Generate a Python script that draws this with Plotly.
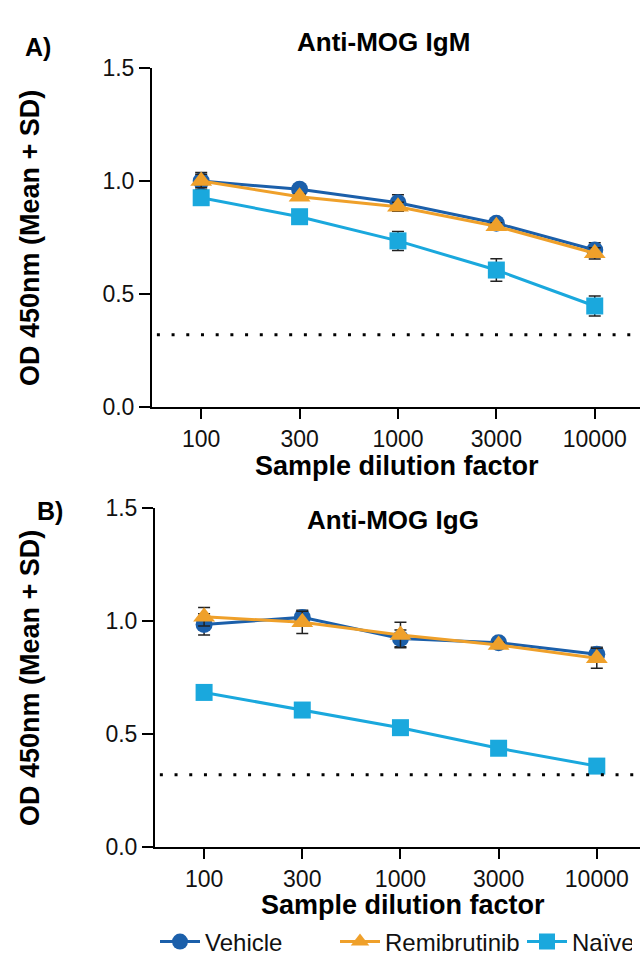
import plotly.graph_objects as go

dilutions = ["100", "300", "1000", "3000", "10000"]

# Panel A: Anti-MOG IgM
igm_vehicle = [1.00, 0.963, 0.904, 0.813, 0.695]
igm_vehicle_sd = [0.038, 0.010, 0.035, 0.012, 0.032]
igm_remi = [1.00, 0.930, 0.886, 0.800, 0.680]
igm_remi_sd = [0.030, 0.012, 0.020, 0.015, 0.025]
igm_naive = [0.926, 0.842, 0.735, 0.606, 0.447]
igm_naive_sd = [0.015, 0.012, 0.042, 0.050, 0.044]

# Panel B: Anti-MOG IgG
igg_vehicle = [0.985, 1.016, 0.923, 0.904, 0.853]
igg_vehicle_sd = [0.047, 0.032, 0.037, 0.012, 0.031]
igg_remi = [1.019, 0.994, 0.938, 0.894, 0.835]
igg_remi_sd = [0.041, 0.049, 0.056, 0.012, 0.044]
igg_naive = [0.684, 0.606, 0.528, 0.437, 0.358]
igg_naive_sd = [0.008, 0.008, 0.008, 0.008, 0.008]

cutoff = 0.32

series_names = ["Vehicle", "Remibrutinib", "Naïve"]
colors = ["#1b5faa", "#efa02a", "#1aa8dd"]
symbols = ["circle", "triangle-up", "square"]
msizes = [17, 19, 17]
legend_widths = [125, 132, 55]

W, H = 640, 957
FONT = "Liberation Sans, Arial, sans-serif"

fig = go.Figure()

panels = [
    ("x", "y", [igm_vehicle, igm_remi, igm_naive], [igm_vehicle_sd, igm_remi_sd, igm_naive_sd], True),
    ("x2", "y2", [igg_vehicle, igg_remi, igg_naive], [igg_vehicle_sd, igg_remi_sd, igg_naive_sd], False),
]
for xa, ya, vals, sds, show in panels:
    for i in range(3):
        fig.add_trace(go.Scatter(
            x=dilutions, y=vals[i], xaxis=xa, yaxis=ya,
            mode="lines+markers", name=series_names[i], showlegend=show,
            legendwidth=legend_widths[i],
            line=dict(color=colors[i], width=3),
            marker=dict(color=colors[i], symbol=symbols[i], size=msizes[i]),
            error_y=dict(type="data", array=sds[i], color="#222222", thickness=1.5, width=6),
        ))

def px_x(p):
    return p / W

def px_y(p):
    return 1 - p / H

axis_common = dict(showline=True, linecolor="black", linewidth=2, ticks="outside",
                   tickcolor="black", tickwidth=2, showgrid=False, zeroline=False,
                   tickfont=dict(family=FONT, size=23, color="#111"))

fig.update_layout(
    width=W, height=H,
    margin=dict(l=0, r=0, t=0, b=0, autoexpand=False),
    paper_bgcolor="white", plot_bgcolor="white",
    font=dict(family=FONT, color="black"),
    xaxis=dict(domain=[px_x(152), 1], range=[-0.5, 4.46], type="category",
               categoryorder="array", categoryarray=dilutions, ticklen=10,
               anchor="y", **axis_common),
    yaxis=dict(domain=[px_y(407), px_y(68)], range=[0, 1.5], tickvals=[0, 0.5, 1.0, 1.5],
               tickformat=".1f", ticklen=11, anchor="x", **axis_common),
    xaxis2=dict(domain=[px_x(155), 1], range=[-0.5, 4.44], type="category",
                categoryorder="array", categoryarray=dilutions, ticklen=10,
                anchor="y2", **axis_common),
    yaxis2=dict(domain=[px_y(847), px_y(508)], range=[0, 1.5], tickvals=[0, 0.5, 1.0, 1.5],
                tickformat=".1f", ticklen=11, anchor="x2", **axis_common),
    legend=dict(orientation="h", x=px_x(155), xanchor="left", y=px_y(942), yanchor="middle",
                itemwidth=40,
                font=dict(family=FONT, size=24, color="#111"), bgcolor="rgba(0,0,0,0)"),
    showlegend=True,
)

for yref, xref in [("y", "x"), ("y2", "x2")]:
    fig.add_shape(type="line", xref=xref + " domain", yref=yref, x0=0.01, x1=1,
                  y0=cutoff, y1=cutoff, line=dict(color="black", width=3, dash="3px,11.7px"))

ann = [
    ("<b>A)</b>", 38, 47, 0, 25),
    ("<b>Anti-MOG IgM</b>", 383, 42, 0, 26),
    ("<b>Sample dilution factor</b>", 397, 466, 0, 27),
    ("<b>OD 450nm (Mean + SD)</b>", 30, 238, -90, 27),
    ("<b>B)</b>", 50, 511, 0, 25),
    ("<b>Anti-MOG IgG</b>", 393, 520, 0, 26),
    ("<b>Sample dilution factor</b>", 403, 905, 0, 27),
    ("<b>OD 450nm (Mean + SD)</b>", 30, 678, -90, 27),
]
for text, x, y, ang, fs in ann:
    fig.add_annotation(text=text, x=px_x(x), y=px_y(y), xref="paper", yref="paper",
                       showarrow=False, textangle=ang,
                       font=dict(family=FONT, size=fs, color="black"),
                       xanchor="center", yanchor="middle")

fig.write_html("out.html", config={"displayModeBar": False},
               post_script="document.body.style.margin='0';document.body.style.overflow='hidden';")
